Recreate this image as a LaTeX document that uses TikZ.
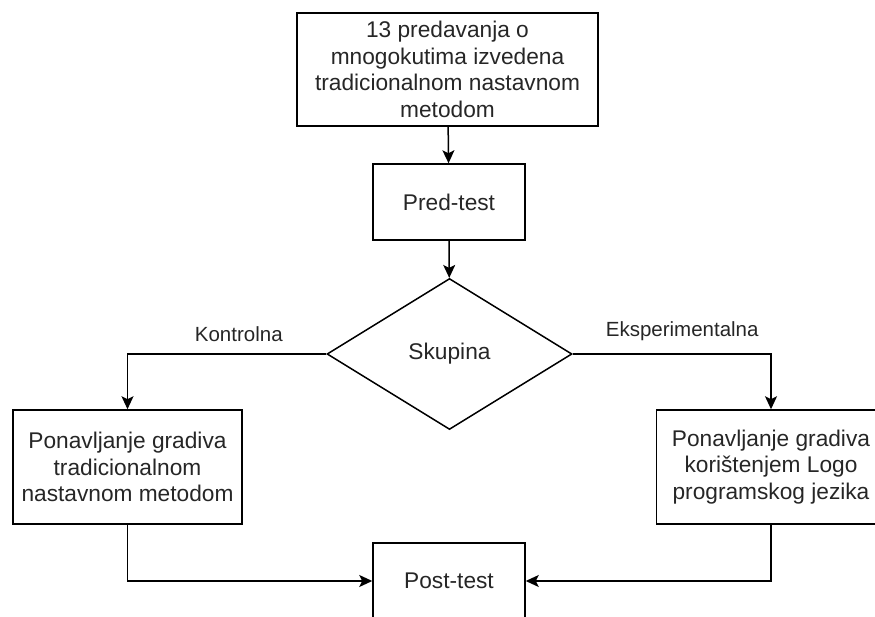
\documentclass[tikz,border=0pt]{standalone}
\usepackage{fontspec}
\setmainfont{Liberation Sans}
\usetikzlibrary{arrows.meta,shapes.geometric}

\tikzset{
	stepbox/.style={draw, line width=1.5pt, align=center, inner sep=2pt,
		text=black!85, font=\fontsize{22.7}{26.5}\selectfont},
	choice/.style={stepbox, shape=diamond, inner sep=0pt},
	flow/.style={line width=1.5pt, -{Stealth[length=13pt,width=12pt,inset=3pt]}},
	branch/.style={text=black!85, font=\fontsize{20.5}{24}\selectfont, inner sep=2pt}
}

\begin{document}
\begin{tikzpicture}[x=1pt, y=-1pt]
			%%%%% START %%%%%
			
			\clip (0, 0) rectangle (875, 617);
			
			\node[stepbox, minimum width=301, minimum height=113] (lectures) at (447.5, 69.5)
				{13 predavanja o\\mnogokutima izvedena\\tradicionalnom nastavnom\\metodom};
			\node[stepbox, minimum width=152, minimum height=76] (pretest) at (449, 202) {Pred-test};
			
			\node[choice, minimum width=245, minimum height=151] (group) at (449.5, 354) {Skupina};
			
			\node[stepbox, minimum width=229, minimum height=114] (control) at (127.5, 467)
				{Ponavljanje gradiva\\tradicionalnom\\nastavnom metodom};
			\node[stepbox, minimum width=229, minimum height=114] (logo) at (771, 467)
				{Ponavljanje gradiva\\korištenjem Logo\\programskog jezika};
			
			\node[stepbox, minimum width=152, minimum height=76] (posttest) at (449, 581) {Post-test};
			
			\draw[flow] (lectures) -- (pretest);
			\draw[flow] (pretest) -- (group);
			
			\draw[flow] (group.west) -| node[branch, pos=0.22, above=10pt] {Kontrolna} (control.north);
			\draw[flow] (group.east) -| node[branch, pos=0.276, above=10pt] {Eksperimentalna} (logo.north);
			
			\draw[flow] (control.south) |- (posttest.west);
			\draw[flow] (logo.south) |- (posttest.east);
			
			%%%%% END %%%%%
\end{tikzpicture}
\end{document}
